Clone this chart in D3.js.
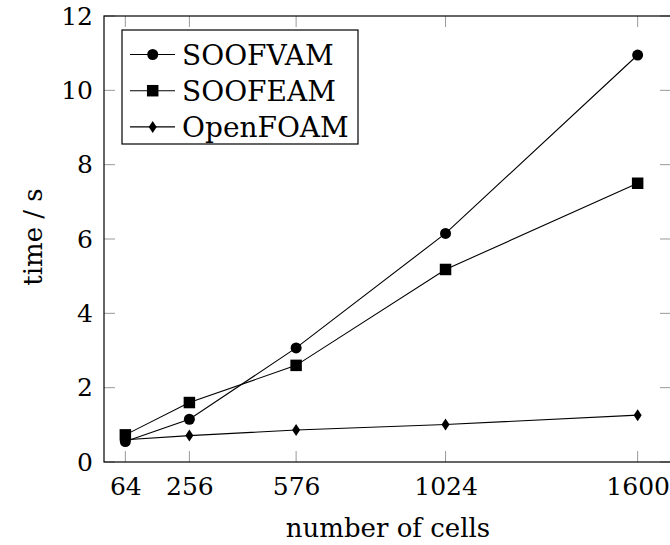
<!DOCTYPE html>
<html><head><meta charset="utf-8">
<script src="https://d3js.org/d3.v7.min.js"></script>
<style>body{margin:0;background:#fff}</style>
</head><body>
<script>
const cells = [64, 256, 576, 1024, 1600];
const soofvam = [0.55, 1.15, 3.07, 6.15, 10.95];
const soofeam = [0.73, 1.6, 2.6, 5.18, 7.5];
const openfoam = [0.6, 0.71, 0.86, 1.01, 1.26];
const yTicks = [0, 2, 4, 6, 8, 10, 12];
const seriesNames = ["SOOFVAM", "SOOFEAM", "OpenFOAM"];
const seriesMarkers = ["circle", "square", "diamond"];

const W = 670, H = 545;
const font = "DejaVu Serif";
const tickFs = 25;
const svg = d3.select("body").append("svg").attr("width", W).attr("height", H);

const x = d3.scaleLinear().domain([0, 1700]).range([104, 671]);
const y = d3.scaleLinear().domain([0, 12]).range([462, 16]);

// ticks (gray, inward, mirrored)
const g = svg.append("g");
cells.forEach(c => {
  g.append("line").attr("x1", x(c)).attr("x2", x(c)).attr("y1", y(0)).attr("y2", y(0) - 11).attr("stroke", "#999");
  g.append("line").attr("x1", x(c)).attr("x2", x(c)).attr("y1", y(12)).attr("y2", y(12) + 11).attr("stroke", "#999");
});
yTicks.forEach(t => {
  g.append("line").attr("x1", x(0)).attr("x2", x(0) + 11).attr("y1", y(t)).attr("y2", y(t)).attr("stroke", "#999");
  g.append("line").attr("x1", x(1700)).attr("x2", x(1700) - 11).attr("y1", y(t)).attr("y2", y(t)).attr("stroke", "#999");
});

// axes via d3 axis for labels
const xAxis = d3.axisBottom(x).tickValues(cells).tickSize(0).tickPadding(0).tickFormat(d3.format("d"));
const xg = svg.append("g").attr("transform", `translate(0,${y(0)})`).call(xAxis);
xg.select(".domain").remove();
xg.selectAll("text").attr("font-family", font).attr("font-size", tickFs).attr("fill", "#000")
  .attr("dy", null).attr("y", 33);

const yAxis = d3.axisLeft(y).tickValues(yTicks).tickSize(0).tickPadding(11).tickFormat(d3.format("d"));
const yg = svg.append("g").attr("transform", `translate(${x(0)},0)`).call(yAxis);
yg.select(".domain").remove();
yg.selectAll("text").attr("font-family", font).attr("font-size", tickFs).attr("fill", "#000");

// frame
svg.append("rect").attr("x", x(0)).attr("y", y(12)).attr("width", x(1700) - x(0)).attr("height", y(0) - y(12))
  .attr("fill", "none").attr("stroke", "#000").attr("stroke-width", 1.2);

const diamondType = { draw(ctx, size) { ctx.moveTo(0, -6); ctx.lineTo(4, 0); ctx.lineTo(0, 6); ctx.lineTo(-4, 0); ctx.closePath(); } };
const symbols = {
  circle: d3.symbol().type(d3.symbolCircle).size(Math.PI * 5.5 * 5.5),
  square: d3.symbol().type(d3.symbolSquare).size(11.5 * 11.5),
  diamond: d3.symbol().type(diamondType)
};
function marker(sel, type, cx, cy) {
  sel.append("path").attr("d", symbols[type]()).attr("fill", "#000").attr("transform", `translate(${cx},${cy})`);
}

const allSeries = [soofvam, soofeam, openfoam];
const line = d3.line().x((d, i) => x(cells[i])).y(d => y(d));
allSeries.forEach((s, k) => {
  svg.append("path").attr("d", line(s)).attr("fill", "none").attr("stroke", "#000").attr("stroke-width", 1.1);
});
allSeries.forEach((s, k) => {
  s.forEach((v, i) => marker(svg, seriesMarkers[k], x(cells[i]), y(v)));
});

// legend
const lg = svg.append("g");
lg.append("rect").attr("x", 122).attr("y", 30).attr("width", 236).attr("height", 114)
  .attr("fill", "#fff").attr("stroke", "#000").attr("stroke-width", 1.2);
seriesNames.forEach((n, k) => {
  const ly = 54.5 + k * 36.2;
  lg.append("line").attr("x1", 130).attr("x2", 175).attr("y1", ly).attr("y2", ly).attr("stroke", "#000").attr("stroke-width", 1.1);
  marker(lg, seriesMarkers[k], 152.7, ly);
  lg.append("text").attr("x", 182).attr("y", ly + 10).attr("font-family", font).attr("font-size", 28).text(n);
});

// axis titles
svg.append("text").attr("x", 388).attr("y", 537).attr("text-anchor", "middle")
  .attr("font-family", font).attr("font-size", 26).text("number of cells");
svg.append("text").attr("transform", `translate(42,237) rotate(-90)`).attr("text-anchor", "middle")
  .attr("font-family", font).attr("font-size", 26).text("time / s");
</script>
</body></html>
